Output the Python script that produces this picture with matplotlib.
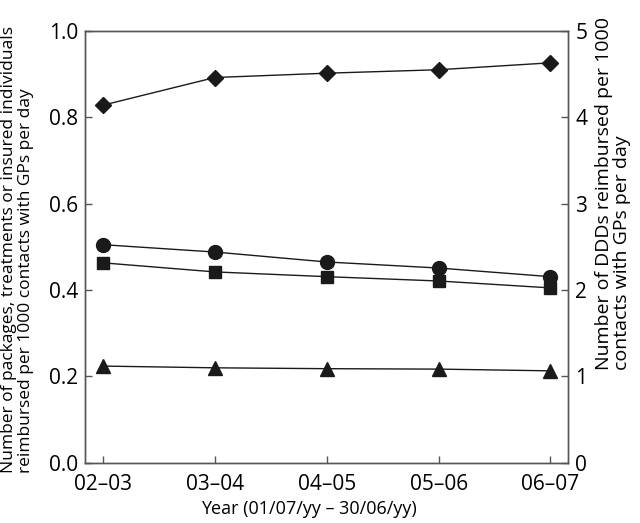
import matplotlib.pyplot as plt
import numpy as np

# data
years = ['02\u201303', '03\u201304', '04\u201305', '05\u201306', '06\u201307']
ddd = [4.14, 4.46, 4.51, 4.55, 4.63]           # right axis, diamonds
packages = [0.505, 0.488, 0.465, 0.451, 0.431]  # circles
treatments = [0.463, 0.442, 0.431, 0.421, 0.405]  # squares
individuals = [0.224, 0.220, 0.218, 0.217, 0.213]  # triangles

plt.rcParams['font.family'] = ['Open Sans', 'DejaVu Sans']

fig = plt.figure(figsize=(6.4, 5.23), dpi=100)
ax = fig.add_axes([0.133, 0.115, 0.755, 0.826])
ax2 = ax.twinx()

x = np.arange(len(years))
lc = '#1a1a1a'
ax.plot(x, packages, '-', color=lc, lw=1, marker='o', ms=10)
ax.plot(x, treatments, '-', color=lc, lw=1, marker='s', ms=9)
ax.plot(x, individuals, '-', color=lc, lw=1, marker='^', ms=10)
ax2.plot(x, ddd, '-', color=lc, lw=1, marker='D', ms=8)

ax.set_xlim(-0.16, 4.16)
ax.set_ylim(0, 1.0)
ax2.set_ylim(0, 5)
ax.set_xticks(x)
ax.set_xticklabels(years)
ax.set_yticks(np.arange(0, 1.01, 0.2))
ax.set_yticklabels([f'{v:.1f}' for v in np.arange(0, 1.01, 0.2)])
ax2.set_yticks(range(6))

for a in (ax, ax2):
    a.tick_params(labelsize=15, direction='in', length=5, width=1, color='#555555', pad=5)
    for s in a.spines.values():
        s.set_color('#555555')
        s.set_linewidth(1)
ax.tick_params(axis='x', pad=8)

fig.text(0.002, 0.095, 'Number of packages, treatments or insured individuals\nreimbursed per 1000 contacts with GPs per day',
         rotation=90, fontsize=12.5, linespacing=1.1, ha='left', va='bottom', multialignment='left')
fig.text(0.929, 0.293, 'Number of DDDs reimbursed per 1000\ncontacts with GPs per day',
         rotation=90, fontsize=14, linespacing=1.0, ha='left', va='bottom', multialignment='left')
ax.set_xlabel('Year (01/07/yy \u2013 30/06/yy)', fontsize=13)
ax.xaxis.set_label_coords(0.464, -0.085)

fig.savefig('out.png', dpi=100)
